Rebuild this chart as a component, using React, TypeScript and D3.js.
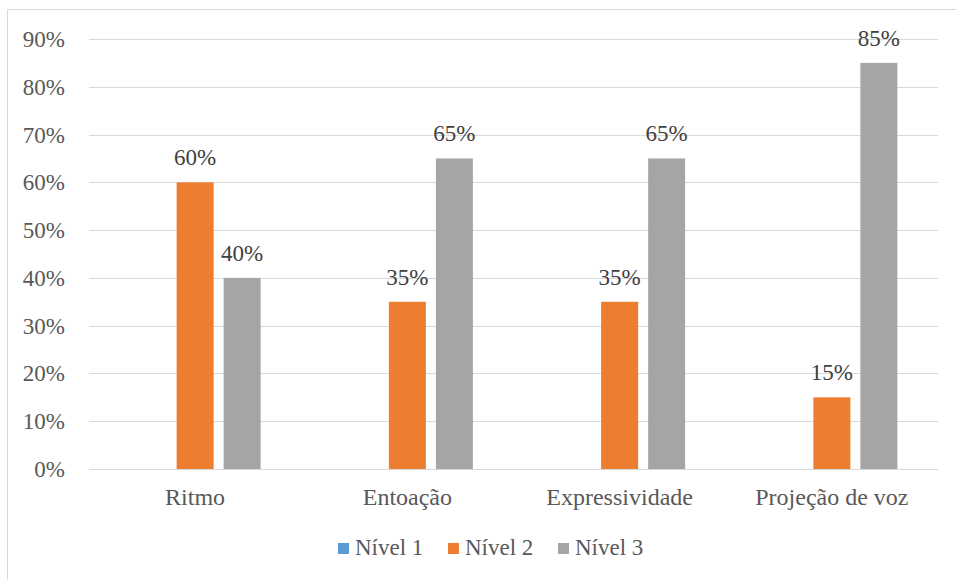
import React from "react";
import * as d3 from "d3";

const categories = ["Ritmo", "Entoação", "Expressividade", "Projeção de voz"];
const seriesNames = ["Nível 1", "Nível 2", "Nível 3"];
const nivel1 = [0, 0, 0, 0];
const nivel2 = [0.6, 0.35, 0.35, 0.15];
const nivel3 = [0.4, 0.65, 0.65, 0.85];
const seriesColors = ["#5B9BD5", "#ED7D31", "#A5A5A5"];
const yTicks = [0, 0.1, 0.2, 0.3, 0.4, 0.5, 0.6, 0.7, 0.8, 0.9];

const W = 956;
const H = 580;
const plot = { left: 89, right: 938, top: 39, bottom: 469 };
const FONT = '"Liberation Serif", "Times New Roman", "DejaVu Serif", serif';

export default function App() {
  const series = [nivel1, nivel2, nivel3];

  const x0 = d3
    .scaleBand<string>()
    .domain(categories)
    .range([plot.left, plot.right])
    .padding(0);
  const x1 = d3
    .scaleBand<string>()
    .domain(seriesNames)
    .range([0, x0.bandwidth()])
    .paddingInner(0.213)
    .paddingOuter(0.864);
  const y = d3.scaleLinear().domain([0, 0.9]).range([plot.bottom, plot.top]);
  const pct = d3.format(".0%");
  const small = { fontFamily: FONT, fontSize: 23 } as React.CSSProperties;
  const large = { fontFamily: FONT, fontSize: 24 } as React.CSSProperties;

  return (
    <svg
      width={W}
      height={H}
      style={{ position: "absolute", left: 0, top: 0, background: "#fff", fontFamily: FONT }}
    >
      <rect x={7.5} y={9.5} width={W} height={H} fill="#fff" stroke="#D9D9D9" strokeWidth={1} />

      {yTicks.map((t) => (
        <g key={t}>
          <line
            x1={plot.left}
            x2={plot.right}
            y1={Math.round(y(t)) + 0.5}
            y2={Math.round(y(t)) + 0.5}
            stroke="#D9D9D9"
            strokeWidth={1}
          />
          <text x={65} y={y(t)} dy="0.35em" textAnchor="end" style={small} fill="#595959">
            {pct(t)}
          </text>
        </g>
      ))}

      {categories.map((c, ci) => (
        <g key={c} transform={`translate(${x0(c)},0)`}>
          {series.map((vals, si) => {
            const v = vals[ci];
            const bx = x1(seriesNames[si])!;
            return (
              <g key={si}>
                <rect
                  x={bx}
                  y={y(v)}
                  width={x1.bandwidth()}
                  height={y(0) - y(v)}
                  fill={seriesColors[si]}
                />
                {v > 0 && (
                  <text
                    x={bx + x1.bandwidth() / 2}
                    y={y(v) - 17}
                    textAnchor="middle"
                    style={small}
                    fill="#404040"
                  >
                    {pct(v)}
                  </text>
                )}
              </g>
            );
          })}
          <text x={x0.bandwidth() / 2} y={505} textAnchor="middle" style={large} fill="#595959">
            {c}
          </text>
        </g>
      ))}

      {seriesNames.map((s, i) => {
        const lx = [338, 448, 558][i];
        return (
          <g key={s}>
            <rect x={lx} y={543} width={11} height={11} fill={seriesColors[i]} />
            <text x={lx + 17} y={555} style={small} fill="#595959">
              {s}
            </text>
          </g>
        );
      })}
    </svg>
  );
}
